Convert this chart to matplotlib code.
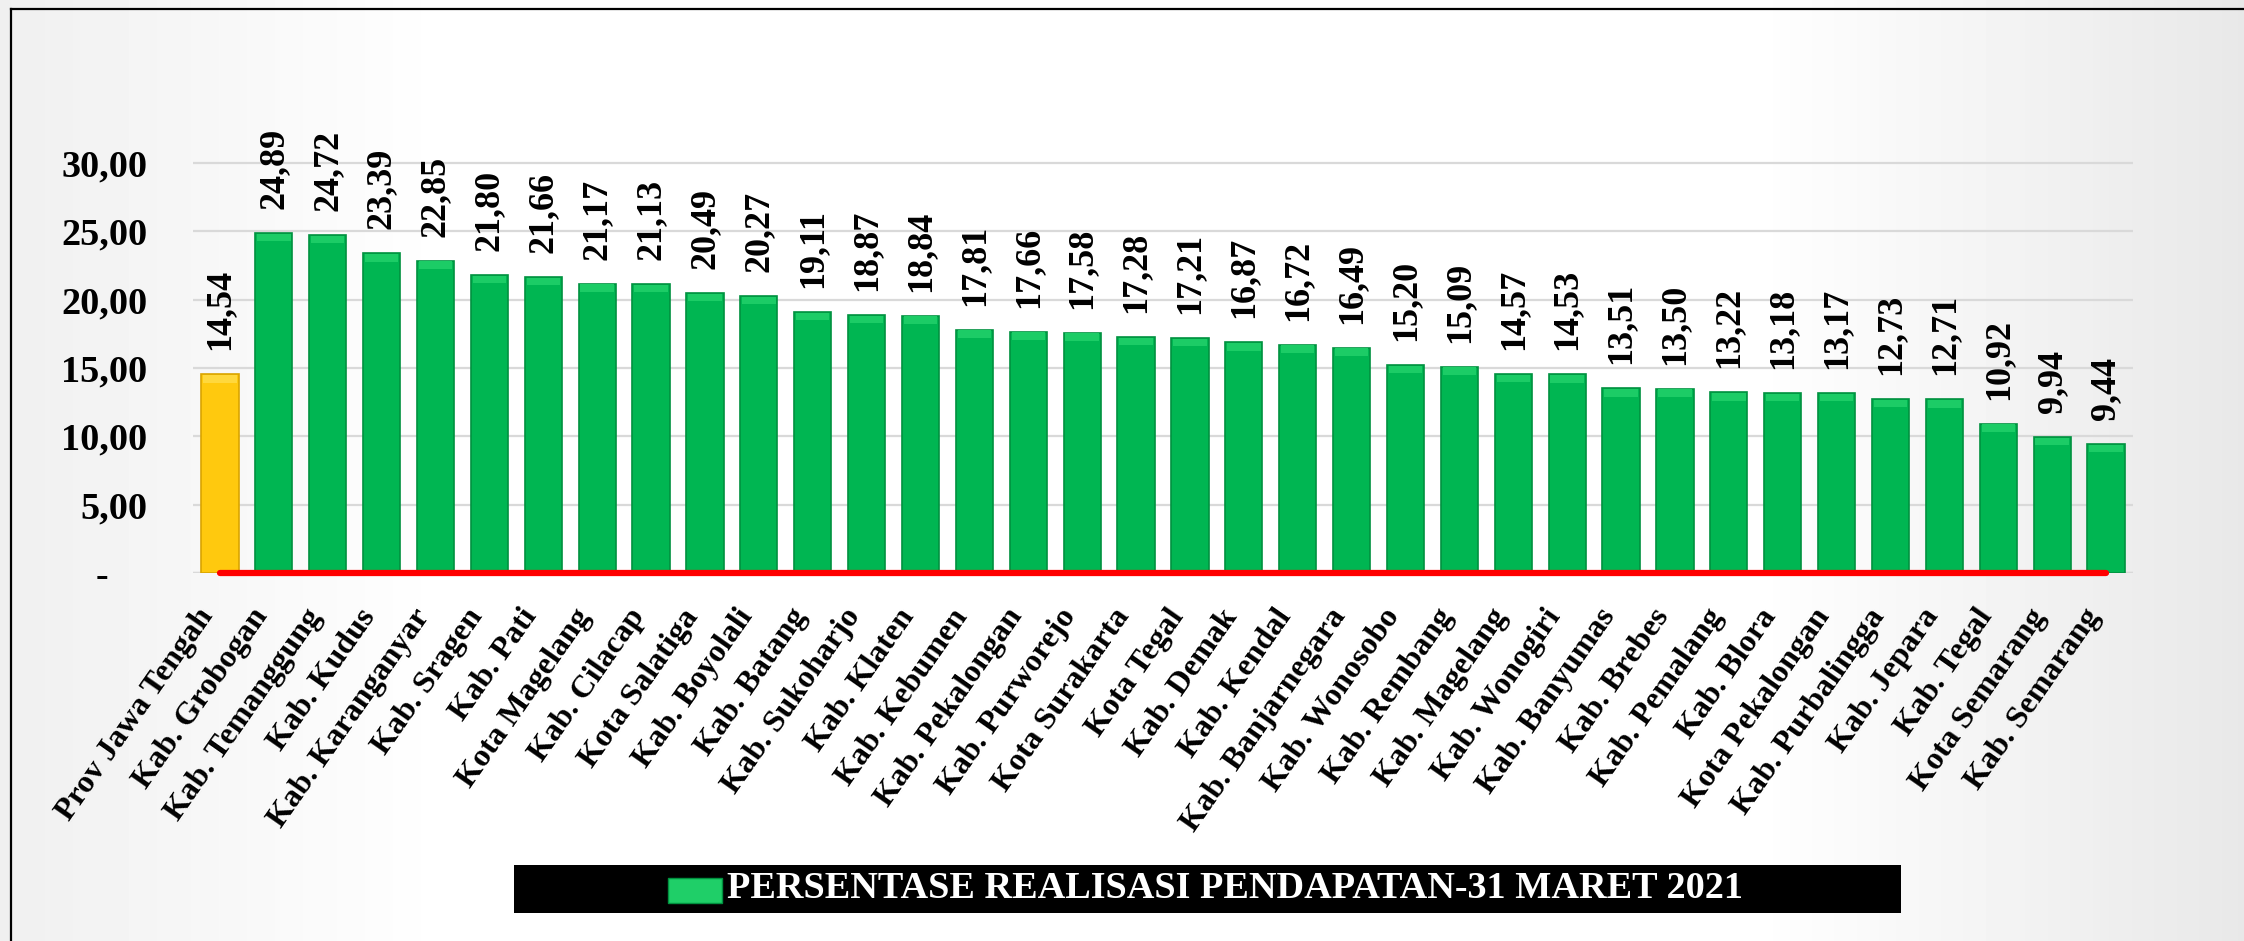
import numpy as np
import matplotlib
matplotlib.use('Agg')
import matplotlib.pyplot as plt
from matplotlib.patches import Rectangle
from matplotlib.lines import Line2D
from matplotlib.ticker import FuncFormatter
from matplotlib.transforms import offset_copy

daerah = ['Prov Jawa Tengah', 'Kab. Grobogan', 'Kab. Temanggung', 'Kab. Kudus',
          'Kab. Karanganyar', 'Kab. Sragen', 'Kab. Pati', 'Kota Magelang',
          'Kab. Cilacap', 'Kota Salatiga', 'Kab. Boyolali', 'Kab. Batang',
          'Kab. Sukoharjo', 'Kab. Klaten', 'Kab. Kebumen', 'Kab. Pekalongan',
          'Kab. Purworejo', 'Kota Surakarta', 'Kota Tegal', 'Kab. Demak',
          'Kab. Kendal', 'Kab. Banjarnegara', 'Kab. Wonosobo', 'Kab. Rembang',
          'Kab. Magelang', 'Kab. Wonogiri', 'Kab. Banyumas', 'Kab. Brebes',
          'Kab. Pemalang', 'Kab. Blora', 'Kota Pekalongan', 'Kab. Purbalingga',
          'Kab. Jepara', 'Kab. Tegal', 'Kota Semarang', 'Kab. Semarang']
persen = [14.54, 24.89, 24.72, 23.39, 22.85, 21.80, 21.66, 21.17, 21.13, 20.49,
          20.27, 19.11, 18.87, 18.84, 17.81, 17.66, 17.58, 17.28, 17.21, 16.87,
          16.72, 16.49, 15.20, 15.09, 14.57, 14.53, 13.51, 13.50, 13.22, 13.18,
          13.17, 12.73, 12.71, 10.92, 9.94, 9.44]
yticks = [0, 5, 10, 15, 20, 25, 30]
judul_legend = 'PERSENTASE REALISASI PENDAPATAN-31 MARET 2021'

serif = ['Liberation Serif', 'DejaVu Serif']
W, H = 2244, 941
fig = plt.figure(figsize=(W / 100, H / 100), dpi=100)

# latar belakang gradasi (putih di tengah, abu-abu di tepi)
bg = fig.add_axes([0, 0, 1, 1], zorder=-10)
t = np.linspace(0, 1, 400)
shade = np.where(t < 0.2, 0.94 + 0.06 * t / 0.2,
                 np.where(t > 0.78, 1 - 0.09 * (t - 0.78) / 0.22, 1.0))
bg.imshow(np.tile(shade, (10, 1)), cmap='gray', vmin=0, vmax=1,
          aspect='auto', extent=[0, 1, 0, 1])
bg.set_axis_off()

ax = fig.add_axes([193 / W, 0.3911, 1940 / W, 0.4385])
ax.set_facecolor('none')

x = np.arange(len(daerah))
warna = ['#ffc90e'] + ['#00b652'] * (len(daerah) - 1)
tepi = ['#d9a400'] + ['#00913f'] * (len(daerah) - 1)
ax.bar(x, persen, width=0.69, color=warna, edgecolor=tepi, linewidth=1.2, zorder=3)
# efek bevel di atas batang
terang = ['#ffd83d'] + ['#1ccc66'] * (len(daerah) - 1)
vals = np.array(persen)
ax.bar(x, 0.55, bottom=vals - 0.6, width=0.62, color=terang, linewidth=0, zorder=4)

# label nilai (vertikal)
tr = offset_copy(ax.transData, fig=fig, x=0, y=24, units='dots')
for xi, v in zip(x, persen):
    ax.text(xi, v, f'{v:.2f}'.replace('.', ','), transform=tr,
            rotation=90, ha='center', va='bottom',
            fontsize=26, fontweight='bold', family=serif, clip_on=False)

# garis merah di dasar
ax.plot([x[0], x[-1]], [0, 0], color='#ff0000', lw=4.5, solid_capstyle='round',
        zorder=5, clip_on=False)

ax.set_xlim(-0.5, len(daerah) - 0.5)
ax.set_ylim(0, 30.2)
ax.set_yticks(yticks)
ax.yaxis.set_major_formatter(FuncFormatter(
    lambda v, p: '-    ' if v == 0 else f'{v:.2f}'.replace('.', ',')))
ax.grid(axis='y', color='#d9d9d9', lw=1.6, zorder=0)
ax.axhline(0, color='#c8c8c8', lw=1.6, zorder=1)
for s in ax.spines.values():
    s.set_visible(False)
ax.tick_params(axis='y', length=0, pad=33)
ax.tick_params(axis='x', length=0, pad=22)
ax.set_xticks(x)
ax.set_xticklabels(daerah, rotation=55, ha='right', va='top')
for lab in ax.get_xticklabels() + ax.get_yticklabels():
    lab.set_family(serif)
    lab.set_fontweight('bold')
for lab in ax.get_xticklabels():
    lab.set_fontsize(23)
for lab in ax.get_yticklabels():
    lab.set_fontsize(27.5)

# legenda kotak hitam
fig.add_artist(Rectangle((514 / W, 1 - 913 / H), (1901 - 514) / W, 48 / H,
                         facecolor='black', edgecolor='none'))
fig.add_artist(Rectangle((668 / W, 1 - 903 / H), 54 / W, 25 / H,
                         facecolor='#1fcf68', edgecolor='#00913f', lw=1))
fig.text(727 / W, 1 - 889 / H, judul_legend, color='white', fontsize=27.5,
         fontweight='bold', family=serif, ha='left', va='center')

# bingkai
fig.add_artist(Line2D([11 / W, 1], [1 - 9 / H, 1 - 9 / H], color='black', lw=1.6))
fig.add_artist(Line2D([11 / W, 11 / W], [0, 1 - 9 / H], color='black', lw=1.6))

fig.savefig('out.png', dpi=100)
